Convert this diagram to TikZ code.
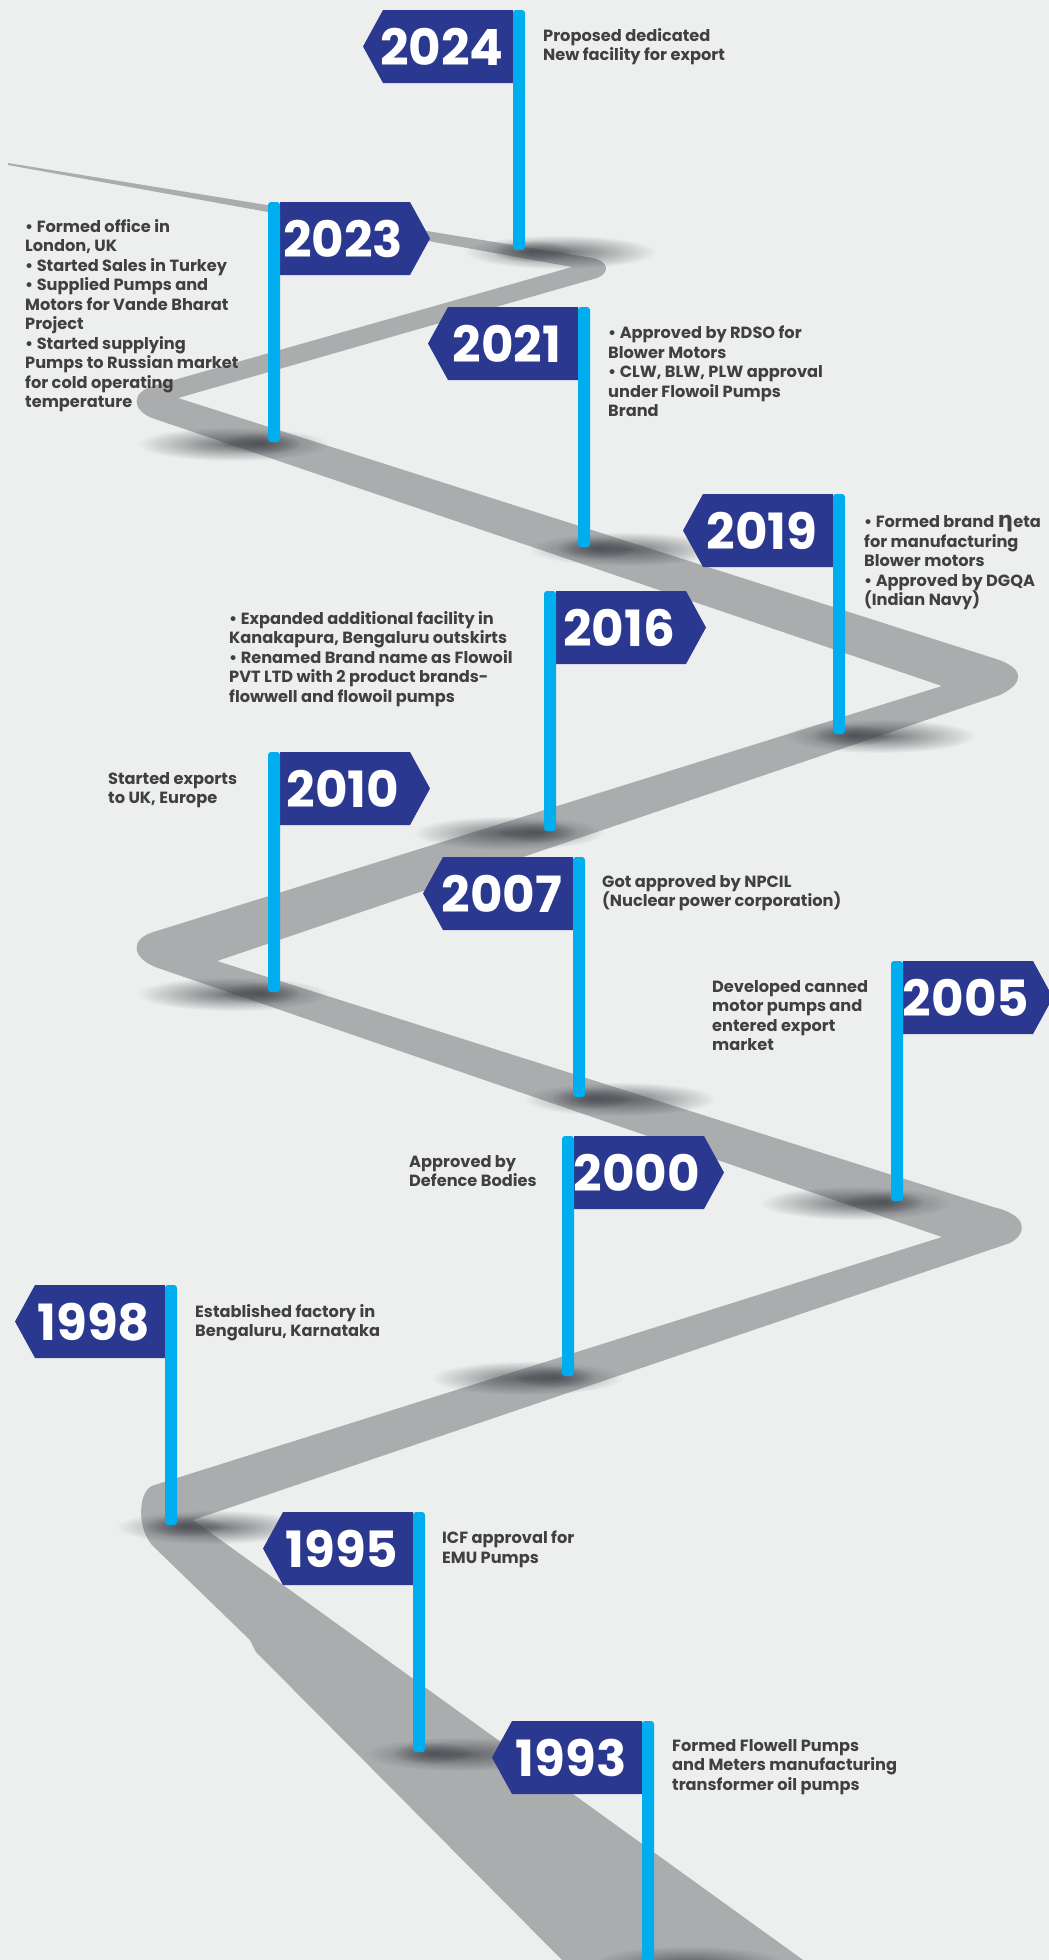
\documentclass[tikz,border=0pt]{standalone}
\usepackage{fontspec}
\setmainfont{Poppins}
\newfontfamily\etafont{DejaVu Sans}
\usetikzlibrary{fadings}

\definecolor{bgcol}{HTML}{EDEFEE}
\definecolor{roadgrey}{HTML}{ABACAE}
\definecolor{flagblue}{HTML}{2B388F}
\definecolor{poleblue}{HTML}{00ADEE}
\definecolor{textgrey}{HTML}{404040}
\definecolor{shadowgrey}{HTML}{45474D}

\tikzfading[name=shadow fade, inner color=transparent!0, outer color=transparent!100]

\begin{document}
\begin{tikzpicture}[x=1pt,y=-1pt,
    yearlabel/.style={text=white,font=\fontsize{50}{50}\selectfont\bfseries,inner sep=0},
    note/.style={text=textgrey,font=\fontsize{16.2}{19.5}\selectfont\bfseries,
                 align=left,anchor=north west,inner sep=0},
    flagbody/.style={fill=flagblue},
    pole/.style={fill=poleblue,rounded corners=3pt},
    poleshadow/.style={fill=shadowgrey,fill opacity=0.75,path fading=shadow fade}]

    \useasboundingbox (0,0) rectangle (1049,1960);
    \fill[bgcol] (0,0) rectangle (1049,1960);
    \clip (0,0) rectangle (1049,1960);

    % the winding road
    \fill[roadgrey] (8,163) -- (590,257.5)
        .. controls (610,260.5) and (610,273) .. (597,278)
        -- (178,398) -- (995,658.6)
        .. controls (1025,668) and (1025,683) .. (1000,695)
        -- (217,961) -- (993,1207)
        .. controls (1028,1215) and (1028,1233) .. (1010,1243)
        -- (193,1520) -- (817,1970)
        -- (572,1970) -- (256,1652) -- (250,1640) -- (154,1547)
        .. controls (136,1530) and (138,1490) .. (153,1485.5)
        -- (942,1237) -- (158,968)
        .. controls (130,958) and (130,938) .. (155,931.5)
        -- (942,686) -- (152,418)
        .. controls (132,410) and (130,392) .. (155,385.4)
        -- (572,267) -- (8,165) -- cycle;

    % shadows at the foot of the poles
    \fill[poleshadow] (560,252) ellipse [x radius=96, y radius=17];
    \fill[poleshadow] (532,251) ellipse [x radius=40, y radius=11];
    \fill[poleshadow] (233,444) ellipse [x radius=96, y radius=17];
    \fill[poleshadow] (261,443) ellipse [x radius=40, y radius=11];
    \fill[poleshadow] (625,549) ellipse [x radius=96, y radius=17];
    \fill[poleshadow] (597,548) ellipse [x radius=40, y radius=11];
    \fill[poleshadow] (880,736) ellipse [x radius=96, y radius=17];
    \fill[poleshadow] (852,735) ellipse [x radius=40, y radius=11];
    \fill[poleshadow] (509,833) ellipse [x radius=96, y radius=17];
    \fill[poleshadow] (537,832) ellipse [x radius=40, y radius=11];
    \fill[poleshadow] (233,994) ellipse [x radius=96, y radius=17];
    \fill[poleshadow] (261,993) ellipse [x radius=40, y radius=11];
    \fill[poleshadow] (620,1099) ellipse [x radius=96, y radius=17];
    \fill[poleshadow] (592,1098) ellipse [x radius=40, y radius=11];
    \fill[poleshadow] (856,1203) ellipse [x radius=96, y radius=17];
    \fill[poleshadow] (884,1202) ellipse [x radius=40, y radius=11];
    \fill[poleshadow] (527,1378) ellipse [x radius=96, y radius=17];
    \fill[poleshadow] (555,1377) ellipse [x radius=40, y radius=11];
    \fill[poleshadow] (212,1527) ellipse [x radius=96, y radius=17];
    \fill[poleshadow] (184,1526) ellipse [x radius=40, y radius=11];
    \fill[poleshadow] (460,1754) ellipse [x radius=96, y radius=17];
    \fill[poleshadow] (432,1753) ellipse [x radius=40, y radius=11];
    \fill[poleshadow] (689,1963) ellipse [x radius=96, y radius=17];

    % 2024
    \fill[flagbody] (513,10) -- ++(-130,0) -- ++(-20,36.5) -- ++(20,36.5) -- ++(130,0) -- cycle;
    \fill[pole] (513,10) rectangle (525,250);
    \node[yearlabel] (y2024) at (442,47) {2024};
    \node[note] (t2024) at (543,28) {Proposed dedicated\\New facility for export};

    % 2023
    \fill[flagbody] (280,202) -- ++(130,0) -- ++(20,36.5) -- ++(-20,36.5) -- ++(-130,0) -- cycle;
    \fill[pole] (268,202) rectangle (280,442);
    \node[yearlabel] (y2023) at (343,239) {2023};
    \node[note] (t2023) at (25,219) {• Formed office in\\London, UK\\• Started Sales in Turkey\\
        • Supplied Pumps and\\Motors for Vande Bharat\\Project\\• Started supplying\\
        Pumps to Russian market\\for cold operating\\temperature};

    % 2021
    \fill[flagbody] (578,307) -- ++(-130,0) -- ++(-20,36.5) -- ++(20,36.5) -- ++(130,0) -- cycle;
    \fill[pole] (578,307) rectangle (590,547);
    \node[yearlabel] (y2021) at (507,344) {2021};
    \node[note] (t2021) at (608,326) {• Approved by RDSO for\\Blower Motors\\
        • CLW, BLW, PLW approval\\under Flowoil Pumps\\Brand};

    % 2019
    \fill[flagbody] (833,494) -- ++(-130,0) -- ++(-20,36.5) -- ++(20,36.5) -- ++(130,0) -- cycle;
    \fill[pole] (833,494) rectangle (845,734);
    \node[yearlabel] (y2019) at (762,531) {2019};
    \node[note] (t2019) at (864,515) {• Formed brand {\etafont\fontsize{22}{19.5}\selectfont η}eta\\
        for manufacturing\\Blower motors\\• Approved by DGQA\\(Indian Navy)};

    % 2016
    \fill[flagbody] (556,591) -- ++(130,0) -- ++(20,36.5) -- ++(-20,36.5) -- ++(-130,0) -- cycle;
    \fill[pole] (544,591) rectangle (556,831);
    \node[yearlabel] (y2016) at (619,628) {2016};
    \node[note] (t2016) at (229,611) {• Expanded additional facility in\\Kanakapura, Bengaluru outskirts\\
        • Renamed Brand name as Flowoil\\PVT LTD with 2 product brands-\\flowwell and flowoil pumps};

    % 2010
    \fill[flagbody] (280,752) -- ++(130,0) -- ++(20,36.5) -- ++(-20,36.5) -- ++(-130,0) -- cycle;
    \fill[pole] (268,752) rectangle (280,992);
    \node[yearlabel] (y2010) at (343,789) {2010};
    \node[note] (t2010) at (108,772) {Started exports\\to UK, Europe};

    % 2007
    \fill[flagbody] (573,857) -- ++(-130,0) -- ++(-20,36.5) -- ++(20,36.5) -- ++(130,0) -- cycle;
    \fill[pole] (573,857) rectangle (585,1097);
    \node[yearlabel] (y2007) at (502,894) {2007};
    \node[note] (t2007) at (602,875) {Got approved by NPCIL\\(Nuclear power corporation)};

    % 2005
    \fill[flagbody] (903,961) -- ++(130,0) -- ++(20,36.5) -- ++(-20,36.5) -- ++(-130,0) -- cycle;
    \fill[pole] (891,961) rectangle (903,1201);
    \node[yearlabel] (y2005) at (966,998) {2005};
    \node[note] (t2005) at (712,980) {Developed canned\\motor pumps and\\entered export\\market};

    % 2000
    \fill[flagbody] (574,1136) -- ++(130,0) -- ++(20,36.5) -- ++(-20,36.5) -- ++(-130,0) -- cycle;
    \fill[pole] (562,1136) rectangle (574,1376);
    \node[yearlabel] (y2000) at (637,1173) {2000};
    \node[note] (t2000) at (409,1155) {Approved by\\Defence Bodies};

    % 1998
    \fill[flagbody] (165,1285) -- ++(-130,0) -- ++(-20,36.5) -- ++(20,36.5) -- ++(130,0) -- cycle;
    \fill[pole] (165,1285) rectangle (177,1525);
    \node[yearlabel] (y1998) at (94,1322) {1998};
    \node[note] (t1998) at (195,1304) {Established factory in\\Bengaluru, Karnataka};

    % 1995
    \fill[flagbody] (413,1512) -- ++(-130,0) -- ++(-20,36.5) -- ++(20,36.5) -- ++(130,0) -- cycle;
    \fill[pole] (413,1512) rectangle (425,1752);
    \node[yearlabel] (y1995) at (342,1549) {1995};
    \node[note] (t1995) at (442,1531) {ICF approval for\\EMU Pumps};

    % 1993
    \fill[flagbody] (642,1721) -- ++(-130,0) -- ++(-20,36.5) -- ++(20,36.5) -- ++(130,0) -- cycle;
    \fill[pole] (642,1721) rectangle (654,1965);
    \node[yearlabel] (y1993) at (571,1758) {1993};
    \node[note] (t1993) at (672,1739) {Formed Flowell Pumps\\and Meters manufacturing\\transformer oil pumps};
\end{tikzpicture}
\end{document}
